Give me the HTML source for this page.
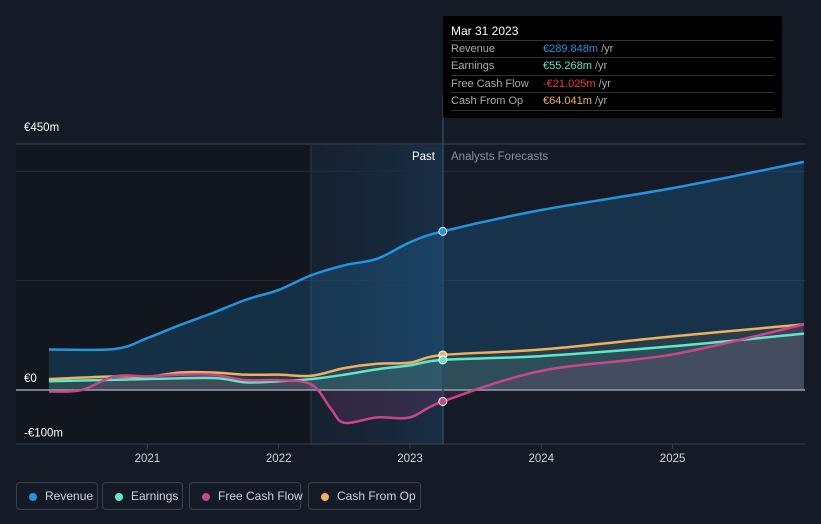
<!DOCTYPE html>
<html><head><meta charset="utf-8"><style>
body{margin:0;background:#151b26;font-family:"Liberation Sans",sans-serif;}
#wrap{position:relative;width:821px;height:524px;overflow:hidden;background:#151b26}
.leg{position:absolute;top:482px;height:28px;border:1px solid #3a414d;border-radius:4px;color:#d0d3d8;font-size:12px;line-height:26px;box-sizing:border-box;padding-left:28px;white-space:nowrap}
.leg i{position:absolute;left:12px;top:10px;width:8px;height:8px;border-radius:50%}
.tt{position:absolute;left:443px;top:16px;width:339px;height:102px;background:#000;color:#fff;font-size:11px}
.tt .r{position:absolute;left:8px;width:323px;border-top:1px solid #333;height:17px;line-height:17px;color:#aaa}
.tt .r span{position:absolute;left:92px}
</style></head><body>
<div id="wrap">
<svg id="chart" width="821" height="524" style="position:absolute;left:0;top:0"></svg>
<div class="tt">
<div style="position:absolute;left:8px;top:8px;font-size:12px;color:#fff">Mar 31 2023</div>
<div class="r" style="top:24px">Revenue<span><b style="font-weight:normal;color:#2394df">€289.848m</b> /yr</span></div>
<div class="r" style="top:41px">Earnings<span><b style="font-weight:normal;color:#5ee8c8">€55.268m</b> /yr</span></div>
<div class="r" style="top:59px">Free Cash Flow<span><b style="font-weight:normal;color:#f2353b">-€21.025m</b> /yr</span></div>
<div class="r" style="top:76px;border-bottom:1px solid #333">Cash From Op<span><b style="font-weight:normal;color:#f0b05c">€64.041m</b> /yr</span></div>
</div>
<div class="leg" style="left:16px;width:82px"><i style="background:#2394df"></i>Revenue</div>
<div class="leg" style="left:102px;width:81px"><i style="background:#5ee8c8"></i>Earnings</div>
<div class="leg" style="left:189px;width:112px"><i style="background:#c8468c"></i>Free Cash Flow</div>
<div class="leg" style="left:308px;width:113px"><i style="background:#f0b05c"></i>Cash From Op</div>
</div>
<script>
const revT=[2020.25,2020.75,2021,2021.25,2021.5,2021.75,2022,2022.25,2022.5,2022.75,2023,2023.25,2024,2025,2026];
const revV=[74,75,95,119,141,165,183,210,228,240,270,290,329,369,417];
const earnT=[2020.25,2021,2021.5,2021.75,2022,2022.25,2022.5,2022.75,2023,2023.25,2024,2025,2026];
const earnV=[16,20,22,14,16,20,28,38,45,55,62,80,103];
const cfoT=[2020.25,2020.75,2021,2021.25,2021.5,2021.75,2022,2022.25,2022.5,2022.75,2023,2023.25,2024,2025,2026];
const cfoV=[20,25,24,32,32,28,28,26,40,48,50,64,74,98,120];
const fcfT=[2020.25,2020.5,2020.75,2021,2021.25,2021.5,2021.75,2022,2022.25,2022.4,2022.5,2022.75,2023,2023.25,2024,2025,2026];
const fcfV=[-3,0,25,25,28,28,18,18,10,-35,-60,-50,-50,-21,35,65,120];
const yTicks=[450,0,-100];
const yTickLabels=["€450m","€0","-€100m"];
const xTicks=[2021,2022,2023,2024,2025];
const NS="http://www.w3.org/2000/svg";
const X=t=>410+(t-2023)*131.3;
const Y=v=>390-v*0.547;
const svg=document.getElementById('chart');
function mk(tag,a,p){const e=document.createElementNS(NS,tag);for(const k in a)e.setAttribute(k,a[k]);(p||svg).appendChild(e);return e;}
function path(T,V){const P=T.map((t,i)=>[X(t),Y(V[i])]);let d='M'+P[0][0]+','+P[0][1];
for(let i=0;i<P.length-1;i++){const p0=P[i-1]||P[i],p1=P[i],p2=P[i+1],p3=P[i+2]||p2;
d+=` C${p1[0]+(p2[0]-p0[0])/6},${p1[1]+(p2[1]-p0[1])/6} ${p2[0]-(p3[0]-p1[0])/6},${p2[1]-(p3[1]-p1[1])/6} ${p2[0]},${p2[1]}`;}return d;}
const defs=mk('defs',{});
defs.innerHTML='<linearGradient id="pastbg" x1="0" x2="1"><stop offset="0" stop-color="#1a2a3e" stop-opacity="0.4"/><stop offset="1" stop-color="#1a3a5a" stop-opacity="0.6"/></linearGradient>';
let r=mk('rect',{x:16,y:145,width:295,height:299,fill:'#12171f'});

r=mk('rect',{x:311,y:145,width:132,height:299,fill:'url(#pastbg)'});

mk('line',{x1:311,y1:145,x2:311,y2:444,stroke:'#2a3a4c'});
[400,200].forEach(v=>mk('line',{x1:16,x2:805,y1:Y(v),y2:Y(v),stroke:'#252c38'}));
mk('line',{x1:16,x2:805,y1:144,y2:144,stroke:'#3a414d'});
mk('line',{x1:16,x2:805,y1:444,y2:444,stroke:'#3a414d'});
const series=[[revT,revV,'#2394df','revenue',0.2],[cfoT,cfoV,'#f0b05c','cash-from-op',0.08],[earnT,earnV,'#5ee8c8','earnings',0.1],[fcfT,fcfV,'#c8468c','free-cash-flow',0.15]];
series.forEach(s=>{const d=path(s[0],s[1]);const a=mk('path',{d:d+` L${X(s[0][s[0].length-1])},${Y(0)} L${X(s[0][0])},${Y(0)} Z`,fill:s[2],'fill-opacity':s[4]});
});
mk('line',{x1:16,x2:805,y1:Y(0),y2:Y(0),stroke:'#9aa0a8','stroke-width':1.5});
series.forEach(s=>{const l=mk('path',{d:path(s[0],s[1]),fill:'none',stroke:s[2],'stroke-width':2.5});
});
mk('line',{x1:443,x2:443,y1:95,y2:444,stroke:'#2a4a66','stroke-width':1.5});
series.forEach(s=>{const i=s[0].indexOf(2023.25);const c=mk('circle',{cx:X(2023.25),cy:Y(s[1][i]),r:4,fill:s[2],stroke:'#fff','stroke-width':1});
});
yTicks.forEach((v,i)=>{const t=mk('text',{x:24,y:Y(v)-8+(v===450?-5:0),fill:'#fff','font-size':11.5,'font-family':'Liberation Sans'});t.textContent=yTickLabels[i];
});
xTicks.forEach(v=>{mk('line',{x1:X(v),x2:X(v),y1:444,y2:449,stroke:'#3a414d'});const t=mk('text',{x:X(v),y:462,fill:'#d0d3d8','font-size':11.5,'text-anchor':'middle','font-family':'Liberation Sans'});t.textContent=v;
});
let t=mk('text',{x:435,y:160,fill:'#fff','font-size':11.5,'text-anchor':'end','font-family':'Liberation Sans'});t.textContent='Past';

t=mk('text',{x:451,y:160,fill:'#8a9099','font-size':11.5,'font-family':'Liberation Sans'});t.textContent='Analysts Forecasts';

</script>
</body></html>
